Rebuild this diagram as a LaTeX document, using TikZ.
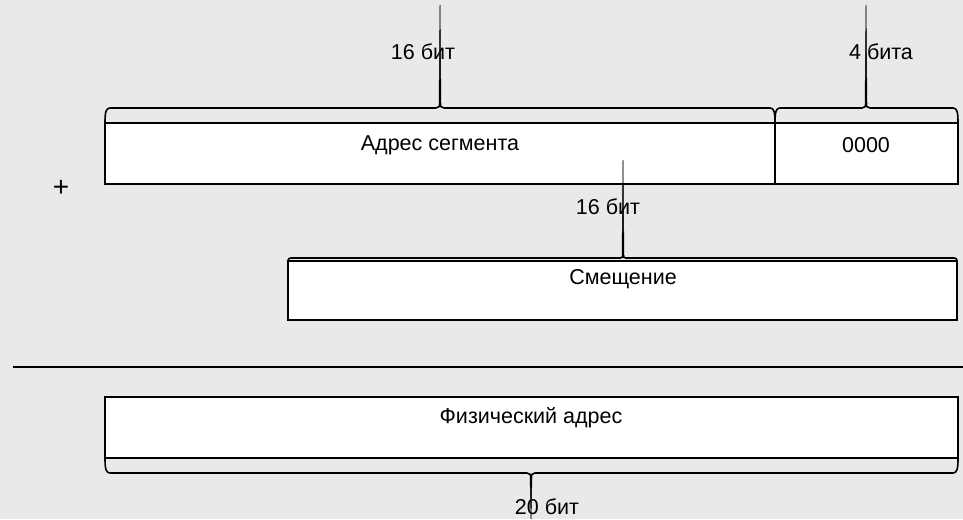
\documentclass[tikz,border=0pt]{standalone}
\usepackage{fontspec}
\setmainfont{Liberation Sans}
\definecolor{bg}{HTML}{E9E9E9}
\begin{document}
\begin{tikzpicture}[x=1pt,y=-1pt,
  box/.style={draw=black,line width=1.6pt,fill=white},
  lbl/.style={font=\fontsize{21.5}{24}\selectfont,inner sep=0pt,anchor=center},
  brace/.style={draw=black,line width=1.6pt,line join=round},
  spike/.style={fill=black,draw=black,line width=0.5pt}]
\fill[bg] (0,0) rectangle (963,519);
\useasboundingbox (0,0) rectangle (963,519);
% boxes
\draw[box] (105,123) rectangle (775,184);
\draw[box] (775,123) rectangle (958,184);
\draw[box] (288,261) rectangle (957,320);
\draw[box] (105,397) rectangle (958,458);
\coordinate (segL) at (105,123); \coordinate (segR) at (775,123);
\coordinate (zL) at (775,123); \coordinate (zR) at (958,123);
\coordinate (offL) at (288,261); \coordinate (offR) at (957,261);
\coordinate (phL) at (105,458); \coordinate (phR) at (958,458);
% top brace 1
\draw[brace] (segL) .. controls (105,112) and (106,108) .. (110,108) -- (436,108)
  .. controls (439,108) and (440,106) .. (440,103) .. controls (440,106) and (441,108) .. (444,108)
  -- (770,108) .. controls (774,108) and (775,112) .. (segR);
\filldraw[spike] (439,104) -- (440,5) -- (441,104) -- cycle;
% top brace 2
\draw[brace] (zL) .. controls (775,112) and (776,108) .. (780,108) -- (862,108)
  .. controls (865,108) and (866,106) .. (866,103) .. controls (866,106) and (867,108) .. (870,108)
  -- (953,108) .. controls (957,108) and (958,112) .. (zR);
\filldraw[spike] (865,104) -- (866,5) -- (867,104) -- cycle;
% offset brace
\draw[brace] (offL) .. controls (288,259) and (289,258) .. (291,258) -- (620,258)
  .. controls (622,258) and (623,257) .. (623,255) .. controls (623,257) and (624,258) .. (626,258)
  -- (954,258) .. controls (956,258) and (957,259) .. (offR);
\filldraw[spike] (622,256) -- (623,160) -- (624,256) -- cycle;
% physical brace (below)
\draw[brace] (phL) .. controls (105,469) and (106,473) .. (110,473) -- (527,473)
  .. controls (530,473) and (531,475) .. (531,478) .. controls (531,475) and (532,473) .. (535,473)
  -- (953,473) .. controls (957,473) and (958,469) .. (phR);
\filldraw[spike] (530,477) -- (531,519) -- (532,477) -- cycle;
% separator
\draw[line width=1.3pt] (13,367) -- (963,367);
% texts
\node[lbl] (t1) at (423,52) {16 бит};
\node[lbl] (t2) at (881,52) {4 бита};
\node[lbl] (seg) at (440,145) {Адрес сегмента};
\node[lbl] (zero) at (866,145) {0000};
\node[lbl] (t3) at (608,207) {16 бит};
\node[lbl] (off) at (623,279) {Смещение};
\node[lbl] (ph) at (531,418) {Физический адрес};
\node[lbl] (t4) at (547,507) {20 бит};
\node[lbl,font=\fontsize{28}{30}\selectfont] (plus) at (61,188) {+};
\end{tikzpicture}
\end{document}
